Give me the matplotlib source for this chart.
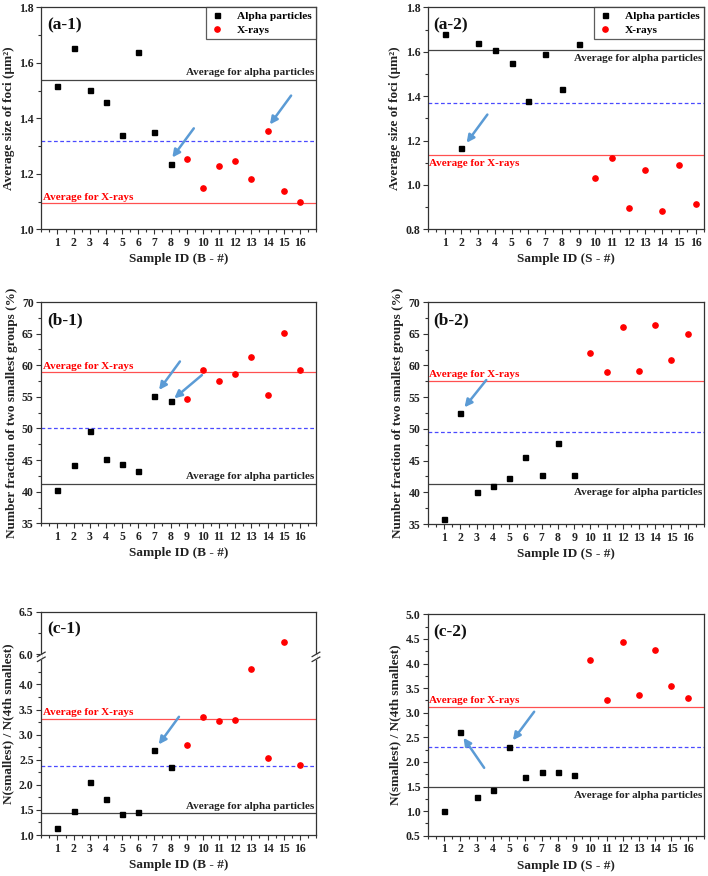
import numpy as np
import matplotlib
matplotlib.use("Agg")
import matplotlib.pyplot as plt
from matplotlib.ticker import MultipleLocator, FixedLocator, FuncFormatter, NullFormatter

plt.rcParams['font.family'] = ['Liberation Serif', 'DejaVu Serif']
plt.rcParams['font.weight'] = 'bold'

# ---------------- data ----------------
a1_alpha_ids = [1, 2, 3, 4, 5, 6, 7, 8]
a1_alpha = [1.515, 1.655, 1.501, 1.460, 1.340, 1.638, 1.352, 1.237]
a1_xray_ids = [9, 10, 11, 12, 13, 14, 15, 16]
a1_xray = [1.252, 1.150, 1.227, 1.247, 1.181, 1.356, 1.139, 1.097]
a1_avgs = [1.540, 1.095, 1.317]   # alpha, x-ray, overall

a2_alpha_ids = [1, 2, 3, 4, 5, 6, 7, 8, 9]
a2_alpha = [1.681, 1.165, 1.641, 1.609, 1.549, 1.378, 1.588, 1.432, 1.633]
a2_xray_ids = [10, 11, 12, 13, 14, 15, 16]
a2_xray = [1.030, 1.123, 0.898, 1.069, 0.884, 1.091, 0.914]
a2_avgs = [1.609, 1.136, 1.371]

b1_alpha = [40.2, 44.3, 49.6, 45.1, 44.4, 43.3, 55.2, 54.4]
b1_xray = [54.6, 59.3, 57.5, 58.6, 61.3, 55.3, 65.1, 59.3]
b1_avgs = [41.2, 58.9, 50.0]

b2_alpha = [35.8, 52.5, 40.0, 41.0, 42.3, 45.5, 42.7, 47.8, 42.7]
b2_xray = [61.9, 58.9, 66.0, 59.2, 66.4, 60.9, 64.9]
b2_avgs = [41.3, 57.6, 49.5]

c1_alpha = [1.13, 1.48, 2.05, 1.72, 1.42, 1.46, 2.69, 2.36]
c1_xray = [2.80, 3.35, 3.28, 3.30, 4.30, 2.54, 6.15, 2.39]
c1_avgs = [1.43, 3.32, 2.37]

c2_alpha = [1.00, 2.60, 1.28, 1.42, 2.31, 1.70, 1.79, 1.79, 1.73]
c2_xray = [4.08, 3.26, 4.44, 3.37, 4.27, 3.54, 3.30]
c2_avgs = [1.50, 3.12, 2.30]

# arrows: (x_start, y_start, x_end, y_end)
a1_arrows = [(9.44, 1.364, 8.11, 1.259), (15.46, 1.482, 14.15, 1.378)]
a2_arrows = [(3.55, 1.317, 2.31, 1.190)]
b1_arrows = [(8.58, 60.6, 7.29, 56.1), (9.94, 58.45, 8.23, 54.77)]
b2_arrows = [(3.59, 57.7, 2.25, 53.4)]
c1_arrows = [(8.52, 3.356, 7.27, 2.805)]
c2_arrows = [(6.54, 3.02, 5.23, 2.44), (3.46, 1.88, 2.19, 2.49)]

# ---------------- style ----------------
SPINE = '#333333'
RED = '#ff0000'
REDLINE = '#ff5050'
BLUE = '#4a4aff'
ARROW = '#5b9bd5'
TICK_FS = 8.5
LABEL_FS = 9.5
TEXT_FS = 8

fig = plt.figure(figsize=(7.08, 8.76), dpi=100)

def style_axes(ax, xmax, xlabel, ylabel, ymajor, yminor):
    ax.set_xlim(0, xmax)
    ax.xaxis.set_major_locator(FixedLocator(list(range(1, 17))))
    ax.xaxis.set_minor_locator(MultipleLocator(0.5))
    ax.tick_params(axis='both', which='both', direction='out', top=False, right=False,
                   colors=SPINE, labelcolor='#222222', labelsize=TICK_FS, width=0.8)
    ax.tick_params(which='major', length=3.5, pad=2)
    ax.tick_params(which='minor', length=2)
    if ymajor is not None:
        ax.yaxis.set_major_locator(MultipleLocator(ymajor))
        ax.yaxis.set_minor_locator(MultipleLocator(yminor))
    for sp in ax.spines.values():
        sp.set_color(SPINE)
        sp.set_linewidth(0.9)
    ax.set_xlabel(xlabel, fontsize=LABEL_FS, fontweight='bold', labelpad=3, color='#222222')
    ax.set_ylabel(ylabel, fontsize=LABEL_FS, fontweight='bold', labelpad=3, color='#222222')
    for lab in ax.get_xticklabels() + ax.get_yticklabels():
        lab.set_fontweight('bold')

def draw(ax, alpha_ids, alpha, xray_ids, xray, avgs, arrows, label,
         alpha_pos='above', xray_pos='above', legend=False):
    ax.axhline(avgs[0], color='#444444', lw=0.9, zorder=1)
    ax.axhline(avgs[1], color=REDLINE, lw=0.9, zorder=1)
    ax.axhline(avgs[2], color=BLUE, lw=0.9, ls=(0, (3, 2)), zorder=1)
    ax.plot(alpha_ids, alpha, 's', color='black', ms=3.6, label='Alpha particles', zorder=3)
    ax.plot(xray_ids, xray, 'o', color=RED, ms=3.8, label='X-rays', zorder=3)
    for (x0, y0, x1, y1) in arrows:
        ax.annotate('', xy=(x1, y1), xytext=(x0, y0),
                    arrowprops=dict(arrowstyle='-|>', color=ARROW, lw=1.8,
                                    mutation_scale=11, shrinkA=0, shrinkB=0), zorder=4)
    trans = ax.get_yaxis_transform()
    # alpha average text: right aligned
    va = 'bottom' if alpha_pos == 'above' else 'top'
    off = 2 if alpha_pos == 'above' else -3
    ax.annotate('Average for alpha particles', xy=(1.0, avgs[0]), xycoords=trans,
                xytext=(-1, off), textcoords='offset points', ha='right', va=va,
                fontsize=TEXT_FS, fontweight='bold', color='#222222')
    va = 'bottom' if xray_pos == 'above' else 'top'
    off = 1 if xray_pos == 'above' else -3
    ax.annotate('Average for X-rays', xy=(0.0, avgs[1]), xycoords=trans,
                xytext=(1, off), textcoords='offset points', ha='left', va=va,
                fontsize=TEXT_FS, fontweight='bold', color=RED)
    ax.text(0.02, 0.955, label, transform=ax.transAxes, ha='left', va='top',
            fontsize=12.5, fontweight='bold', color='#111111')
    if legend:
        leg = ax.legend(loc='upper right', borderaxespad=0, fancybox=False,
                        edgecolor=SPINE, handlelength=1.2, handletextpad=1.2,
                        borderpad=0.35, labelspacing=0.35,
                        prop=dict(weight='bold', size=8.2))
        leg.get_frame().set_linewidth(0.9)

ids_a = a1_alpha_ids
ids_x = a1_xray_ids
ids9 = a2_alpha_ids
ids7 = a2_xray_ids

# (a-1)
ax = fig.add_axes([0.0583, 0.7382, 0.388, 0.2534])
ax.set_ylim(1.0, 1.8)
draw(ax, ids_a, a1_alpha, ids_x, a1_xray, a1_avgs, a1_arrows, '(a-1)',
     alpha_pos='above', xray_pos='above', legend=True)
style_axes(ax, 17, 'Sample ID (B - #)', 'Average size of foci (\u03bcm\u00b2)', 0.2, 0.1)

# (a-2)
ax = fig.add_axes([0.6045, 0.7382, 0.3898, 0.2534])
ax.set_ylim(0.8, 1.8)
draw(ax, ids9, a2_alpha, ids7, a2_xray, a2_avgs, a2_arrows, '(a-2)',
     alpha_pos='below', xray_pos='below', legend=True)
style_axes(ax, 16.5, 'Sample ID (S - #)', 'Average size of foci (\u03bcm\u00b2)', 0.2, 0.1)

# (b-1)
ax = fig.add_axes([0.0583, 0.4026, 0.388, 0.2526])
ax.set_ylim(35, 70)
draw(ax, ids_a, b1_alpha, ids_x, b1_xray, b1_avgs, b1_arrows, '(b-1)',
     alpha_pos='above', xray_pos='above')
style_axes(ax, 17, 'Sample ID (B - #)', 'Number fraction of two smallest groups (%)', 5, 2.5)

# (b-2)
ax = fig.add_axes([0.6045, 0.4018, 0.3898, 0.2534])
ax.set_ylim(35, 70)
draw(ax, ids9, b2_alpha, ids7, b2_xray, b2_avgs, b2_arrows, '(b-2)',
     alpha_pos='below', xray_pos='above')
style_axes(ax, 17, 'Sample ID (S - #)', 'Number fraction of two smallest groups (%)', 5, 2.5)

# (c-1) broken axis via piecewise scale
LO, HI = 4.55, 6.0
def fwd(y):
    y = np.asarray(y, dtype=float)
    return np.where(y <= LO, y,
                    np.where(y >= HI, 4.6 + (y - HI) * 1.7,
                             LO + (y - LO) * (0.05 / (HI - LO))))
def inv(v):
    v = np.asarray(v, dtype=float)
    return np.where(v <= LO, v,
                    np.where(v >= 4.6, HI + (v - 4.6) / 1.7,
                             LO + (v - LO) * ((HI - LO) / 0.05)))

ax = fig.add_axes([0.0583, 0.0468, 0.388, 0.2549])
ax.set_yscale('function', functions=(fwd, inv))
ax.set_ylim(1.0, 6.5)
draw(ax, ids_a, c1_alpha, ids_x, c1_xray, c1_avgs, c1_arrows, '(c-1)',
     alpha_pos='above', xray_pos='above')
style_axes(ax, 17, 'Sample ID (B - #)', 'N(smallest) / N(4th smallest)', None, None)
ax.yaxis.set_major_locator(FixedLocator([1.0, 1.5, 2.0, 2.5, 3.0, 3.5, 4.0, 6.0, 6.5]))
ax.yaxis.set_minor_locator(FixedLocator([1.25, 1.75, 2.25, 2.75, 3.25, 3.75, 4.25, 6.25]))
ax.yaxis.set_major_formatter(FuncFormatter(lambda v, p: f'{v:.1f}'))
ax.yaxis.set_minor_formatter(NullFormatter())
for lab in ax.get_yticklabels():
    lab.set_fontweight('bold')
# break marks
yb = (float(fwd(4.575)) - 1.0) / (float(fwd(6.5)) - 1.0)
for xs in (0.0, 1.0):
    ax.add_patch(plt.Rectangle((xs - 0.004, yb - 0.012), 0.008, 0.024, transform=ax.transAxes,
                               facecolor='white', edgecolor='none', clip_on=False, zorder=5))
    for dy in (-0.011, 0.011):
        ax.plot([xs - 0.014, xs + 0.014], [yb + dy - 0.01, yb + dy + 0.01],
                transform=ax.transAxes, color=SPINE, lw=0.9, clip_on=False, zorder=6)

# (c-2)
ax = fig.add_axes([0.6045, 0.046, 0.3898, 0.2527])
ax.set_ylim(0.5, 5.0)
draw(ax, ids9, c2_alpha, ids7, c2_xray, c2_avgs, c2_arrows, '(c-2)',
     alpha_pos='below', xray_pos='above')
style_axes(ax, 17, 'Sample ID (S - #)', 'N(smallest) / N(4th smallest)', 0.5, 0.25)

fig.savefig('out.png', dpi=100, facecolor='white')
